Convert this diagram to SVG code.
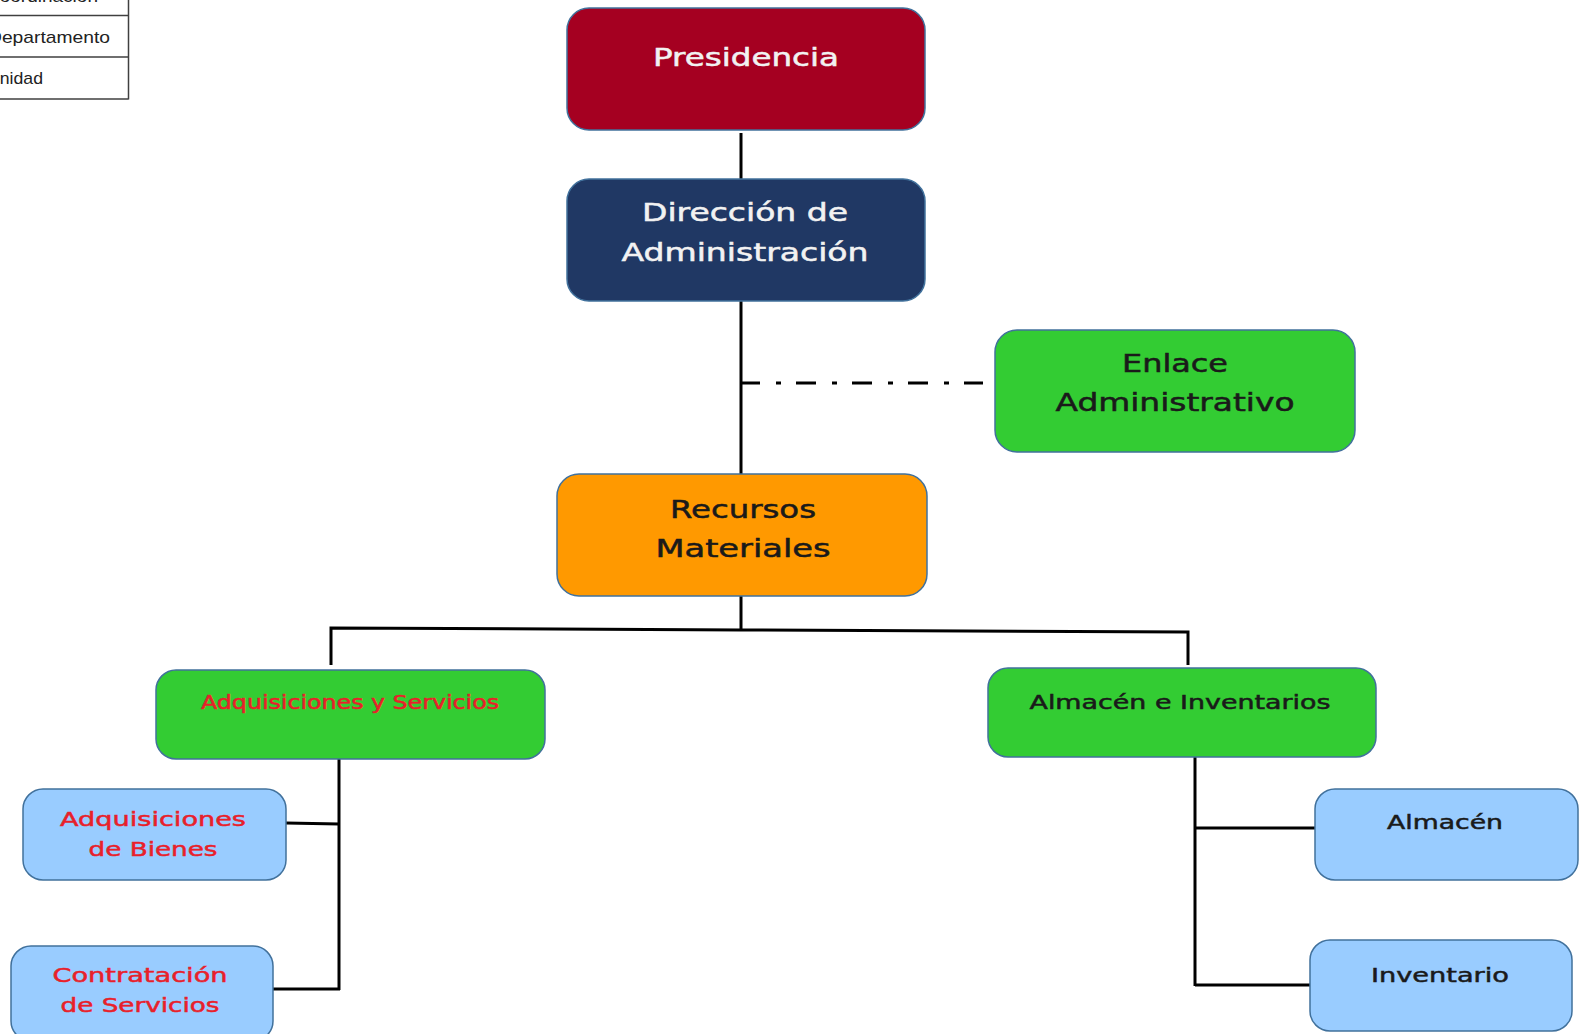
<svg xmlns="http://www.w3.org/2000/svg" width="1579" height="1034" viewBox="0 0 1579 1034">
<style>
.box{stroke:#41719C;stroke-width:1.5}
.t{font-family:"DejaVu Sans","Liberation Sans",sans-serif;text-anchor:middle;stroke-width:0.5}
.big{font-size:24px}
.mid{font-size:19px}
.sm{font-size:20px}
.wh{fill:#F2F2F2;stroke:#F2F2F2}
.bk{fill:#1a1a1a;stroke:#1a1a1a}
.rd{fill:#E8202A;stroke:#E8202A}
.conn{stroke:#000;stroke-width:3;fill:none}
.leg{font-family:"Liberation Sans","DejaVu Sans",sans-serif;font-size:17px;fill:#222;text-anchor:end}
</style>
<rect width="1579" height="1034" fill="#fff"/>
<g id="legend">
<path d="M0 15.5H128.5M0 57H128.5M0 99H128.5M128.5 0V99.5" stroke="#404040" stroke-width="1.5" fill="none"/>
<text class="leg" x="98" y="2" textLength="112" lengthAdjust="spacingAndGlyphs">Coordinación</text>
<text class="leg" x="110" y="43" textLength="122" lengthAdjust="spacingAndGlyphs">Departamento</text>
<text class="leg" x="43" y="84" textLength="56" lengthAdjust="spacingAndGlyphs">Unidad</text>
</g>
<g id="connectors">
<line class="conn" x1="741" y1="133" x2="741" y2="180"/>
<line class="conn" x1="741" y1="301" x2="741" y2="474"/>
<line x1="740" y1="383" x2="983" y2="383" stroke="#000" stroke-width="3" stroke-dasharray="20 16 5 15"/>
<line class="conn" x1="741" y1="596" x2="741" y2="630"/>
<polyline class="conn" points="331,665 331,628 741,630 1188,632 1188,665"/>
<line class="conn" x1="339" y1="759" x2="339" y2="990"/>
<polyline class="conn" points="286,823 339,824"/>
<polyline class="conn" points="273,989 340,989"/>
<line class="conn" x1="1195" y1="757" x2="1195" y2="986"/>
<line class="conn" x1="1195" y1="828" x2="1315" y2="828"/>
<line class="conn" x1="1195" y1="985" x2="1310" y2="985"/>
</g>
<g id="presidencia">
<rect class="box" x="567" y="8" width="358" height="122" rx="22" fill="#A50021"/>
<text class="t big wh" x="746" y="66" textLength="186" lengthAdjust="spacingAndGlyphs">Presidencia</text>
</g>
<g id="direccion">
<rect class="box" x="567" y="179" width="358" height="122" rx="22" fill="#203864"/>
<text class="t big wh" x="745" y="221" textLength="206" lengthAdjust="spacingAndGlyphs">Dirección de</text>
<text class="t big wh" x="745" y="261" textLength="247" lengthAdjust="spacingAndGlyphs">Administración</text>
</g>
<g id="enlace">
<rect class="box" x="995" y="330" width="360" height="122" rx="22" fill="#33CC33"/>
<text class="t big bk" x="1175" y="372" textLength="106" lengthAdjust="spacingAndGlyphs">Enlace</text>
<text class="t big bk" x="1175" y="411" textLength="239" lengthAdjust="spacingAndGlyphs">Administrativo</text>
</g>
<g id="recursos">
<rect class="box" x="557" y="474" width="370" height="122" rx="22" fill="#FF9900"/>
<text class="t big bk" x="743" y="518" textLength="146" lengthAdjust="spacingAndGlyphs">Recursos</text>
<text class="t big bk" x="743" y="557" textLength="175" lengthAdjust="spacingAndGlyphs">Materiales</text>
</g>
<g id="adquisiciones-servicios">
<rect class="box" x="156" y="670" width="389" height="89" rx="20" fill="#33CC33"/>
<text class="t mid rd" x="350" y="709" textLength="298" lengthAdjust="spacingAndGlyphs">Adquisiciones y Servicios</text>
</g>
<g id="almacen-inventarios">
<rect class="box" x="988" y="668" width="388" height="89" rx="20" fill="#33CC33"/>
<text class="t mid bk" x="1180" y="709" textLength="301" lengthAdjust="spacingAndGlyphs">Almacén e Inventarios</text>
</g>
<g id="adquisiciones-bienes">
<rect class="box" x="23" y="789" width="263" height="91" rx="20" fill="#99CCFF"/>
<text class="t sm rd" x="153" y="826" textLength="186" lengthAdjust="spacingAndGlyphs">Adquisiciones</text>
<text class="t sm rd" x="153" y="856" textLength="129" lengthAdjust="spacingAndGlyphs">de Bienes</text>
</g>
<g id="contratacion-servicios">
<rect class="box" x="11" y="946" width="262" height="95" rx="20" fill="#99CCFF"/>
<text class="t sm rd" x="140" y="982" textLength="175" lengthAdjust="spacingAndGlyphs">Contratación</text>
<text class="t sm rd" x="140" y="1012" textLength="159" lengthAdjust="spacingAndGlyphs">de Servicios</text>
</g>
<g id="almacen">
<rect class="box" x="1315" y="789" width="263" height="91" rx="20" fill="#99CCFF"/>
<text class="t sm bk" x="1445" y="829" textLength="116" lengthAdjust="spacingAndGlyphs">Almacén</text>
</g>
<g id="inventario">
<rect class="box" x="1310" y="940" width="262" height="91" rx="20" fill="#99CCFF"/>
<text class="t sm bk" x="1440" y="982" textLength="138" lengthAdjust="spacingAndGlyphs">Inventario</text>
</g>
</svg>
